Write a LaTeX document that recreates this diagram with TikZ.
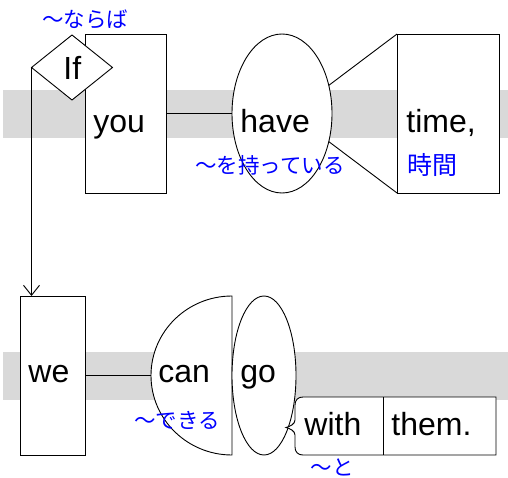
\documentclass[tikz,border=0pt]{standalone}
\usepackage{fontspec}
\setmainfont{Liberation Sans}
\newfontfamily\jpfont{Noto Sans CJK JP}
\usetikzlibrary{shapes.geometric,arrows.meta}
\definecolor{bandgray}{HTML}{D9D9D9}
\definecolor{glossblue}{HTML}{0000FF}
\begin{document}
\begin{tikzpicture}[x=1pt,y=-1pt, line width=0.9pt,
  box/.style={draw, fill=white, inner sep=0pt, outer sep=0pt},
  word/.style={inner sep=0pt, anchor=base west, font=\fontsize{32}{36}\selectfont},
  gloss/.style={inner sep=0pt, text=glossblue, font=\jpfont\fontsize{21.5}{24}\selectfont},
  barb/.style={-{Straight Barb[length=10pt,width=16pt]}}]
\useasboundingbox (0,0) rectangle (508,478);
% bands
\fill[bandgray] (3,90) rectangle (508,138);
\fill[bandgray] (3,352) rectangle (508,400);
% top row shapes
\node[box, rectangle, minimum width=81pt, minimum height=159pt] (you) at (125.5,113.5) {};
\node[box, ellipse, minimum width=100pt, minimum height=159pt] (have) at (282,113.5) {};
\node[box, rectangle, minimum width=102pt, minimum height=159pt] (time) at (448,113.5) {};
\node[box, diamond, minimum width=81pt, minimum height=65pt] (if) at (72,67.5) {};
% bottom row shapes
\node[box, rectangle, minimum width=65pt, minimum height=159pt] (we) at (52.5,375.5) {};
\coordinate (can) at (232,375.5);
\coordinate (canw) at (151,375.5);
\draw[fill=white] (232,455) arc[start angle=90, end angle=270, x radius=81, y radius=79.5] -- cycle;
\node[box, ellipse, minimum width=64pt, minimum height=159pt] (go) at (264,375.5) {};
\coordinate (withtl) at (303,397);
\draw[fill=white] (withtl) -- (496,397) -- (496,455) -- (303,455)
  .. controls (298,455) and (295,452) .. (295,447) -- (295,435)
  .. controls (295,431) and (290,428.5) .. (286,427.5)
  .. controls (290,426.5) and (295,424) .. (295,420) -- (295,405)
  .. controls (295,400) and (298,397) .. (withtl) -- cycle;
\coordinate (divtop) at (383,397);
\coordinate (divbot) at (383,455);
\draw (divtop) -- (divbot);
% connectors
\draw (you.east) -- (have.west);
\draw (have.31) -- (time.north west);
\draw (have.-31) -- (time.south west);
\draw (we.east) -- (canw);
\draw[barb] (if.west) -- (if.west |- we.north);
% words
\node[word] (tif) at (63,80) {If};
\node[word] (tyou) at (93,133) {you};
\node[word] (thave) at (240,133) {have};
\node[word] (ttime) at (406,133) {time,};
\node[word] (twe) at (28,382) {we};
\node[word] (tcan) at (158,382) {can};
\node[word] (tgo) at (240,382) {go};
\node[word] (twith) at (304,435) {with};
\node[word] (tthem) at (391,435) {them.};
% glosses
\node[gloss] (g1) at (85,19) {～ならば};
\node[gloss] (g2) at (270,165) {～を持っている};
\node[gloss, font=\jpfont\fontsize{25}{28}\selectfont] (g3) at (432,165) {時間};
\node[gloss] (g4) at (177,420) {～できる};
\node[gloss] (g5) at (332,467) {～と};
\end{tikzpicture}
\end{document}
